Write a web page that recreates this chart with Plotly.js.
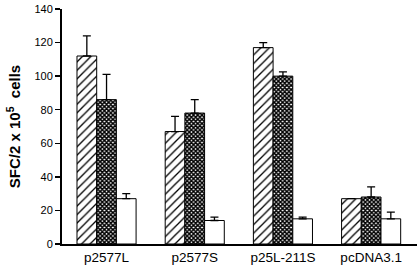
<!DOCTYPE html>
<html>
<head>
<meta charset="utf-8">
<script src="https://cdn.plot.ly/plotly-3.0.1.min.js"></script>
<style>
html,body{margin:0;padding:0;background:#fff;}
#chart{width:419px;height:271px;}
</style>
</head>
<body>
<div id="chart"></div>
<script>
const categories = ['p2577L', 'p2577S', 'p25L-211S', 'pcDNA3.1'];
const hatchedValues = [112, 67, 117, 27];
const hatchedErrors = [12, 9, 3, 0];
const checkedValues = [86, 78, 100, 28];
const checkedErrors = [15, 8, 2.5, 6];
const whiteValues = [27, 14, 15, 15];
const whiteErrors = [3, 2, 1, 4];
const yTickValues = [0, 20, 40, 60, 80, 100, 120, 140];

function err(arr) {
  return {type: 'data', array: arr, arrayminus: arr.map(() => 0), symmetric: false,
          color: '#000', thickness: 1.3, width: 4};
}

const traces = [
  {type: 'bar', x: categories, y: hatchedValues, error_y: err(hatchedErrors),
   marker: {color: '#fff', line: {color: '#000', width: 1},
            pattern: {shape: '/', fgcolor: '#000', bgcolor: '#fff', size: 6, solidity: 0.22}}},
  {type: 'bar', x: categories, y: checkedValues, error_y: err(checkedErrors),
   marker: {color: '#fff', line: {color: '#000', width: 1},
            pattern: {shape: 'x', fgcolor: '#000', bgcolor: '#fff', size: 3, solidity: 0.75}}},
  {type: 'bar', x: categories, y: whiteValues, error_y: err(whiteErrors),
   marker: {color: '#fff', line: {color: '#000', width: 1}}}
];

const layout = {
  width: 419, height: 271,
  margin: {l: 62, r: 2, t: 9, b: 27},
  paper_bgcolor: '#fff', plot_bgcolor: '#fff',
  showlegend: false,
  barmode: 'group', bargap: 0.33, bargroupgap: 0,
  font: {family: 'Liberation Sans, Arial, sans-serif', color: '#000'},
  xaxis: {type: 'category', range: [-0.505, 3.52], showline: true, linewidth: 2, linecolor: '#000',
          ticks: '', showgrid: false, zeroline: false, tickfont: {size: 13.5}},
  yaxis: {range: [0, 140], tickvals: yTickValues, ticks: 'outside', ticklen: 5, tickwidth: 1.5,
          tickcolor: '#000', showline: true, linewidth: 2, linecolor: '#000', showgrid: false,
          zeroline: false, tickfont: {size: 11},
          title: {text: '<b>SFC/2 x 10<sup>5</sup>  cells</b>', font: {size: 15}, standoff: 10}}
};

Plotly.newPlot('chart', traces, layout, {displayModeBar: false, staticPlot: true});
</script>
</body>
</html>
